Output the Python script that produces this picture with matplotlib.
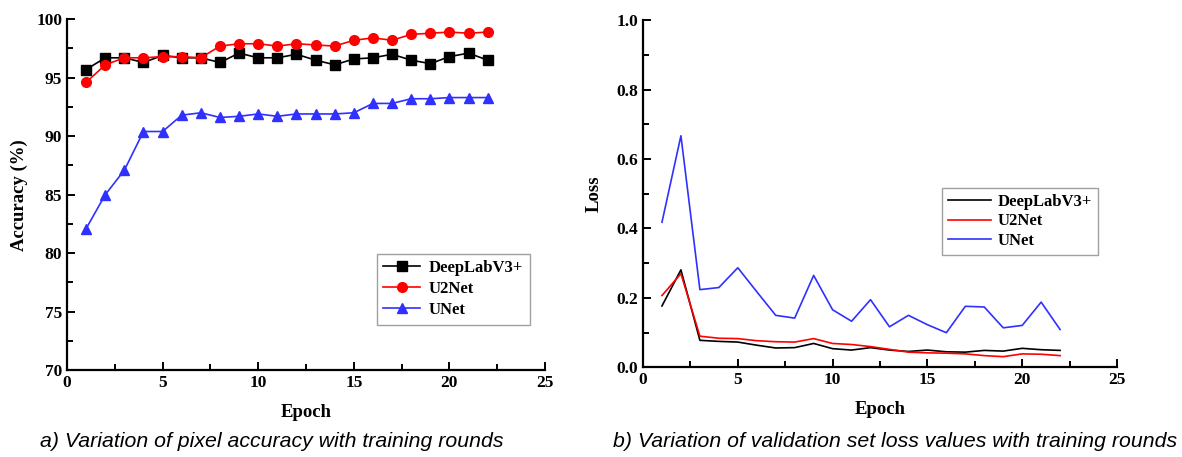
import numpy as np
import matplotlib
matplotlib.use("Agg")
import matplotlib.pyplot as plt
from matplotlib.ticker import MultipleLocator

# epochs and values
epochs = list(range(1, 23))

acc_deeplab = [95.7, 96.7, 96.7, 96.3, 96.9, 96.7, 96.7, 96.3, 97.1, 96.7, 96.7,
               97.0, 96.5, 96.1, 96.6, 96.7, 97.0, 96.5, 96.2, 96.8, 97.1, 96.5]
acc_u2net = [94.6, 96.1, 96.7, 96.7, 96.8, 96.8, 96.7, 97.7, 97.9, 97.9, 97.7,
             97.9, 97.8, 97.7, 98.2, 98.4, 98.2, 98.7, 98.8, 98.9, 98.8, 98.9]
acc_unet = [82.1, 85.0, 87.1, 90.4, 90.4, 91.8, 92.0, 91.6, 91.7, 91.9, 91.7,
            91.9, 91.9, 91.9, 92.0, 92.8, 92.8, 93.2, 93.2, 93.3, 93.3, 93.3]

loss_deeplab = [0.177, 0.281, 0.078, 0.075, 0.073, 0.064, 0.056, 0.057, 0.069, 0.054, 0.050,
                0.057, 0.050, 0.046, 0.050, 0.045, 0.044, 0.049, 0.047, 0.055, 0.051, 0.049]
loss_u2net = [0.207, 0.270, 0.090, 0.084, 0.083, 0.077, 0.074, 0.073, 0.083, 0.069, 0.066,
              0.060, 0.052, 0.044, 0.042, 0.041, 0.039, 0.034, 0.031, 0.039, 0.038, 0.034]
loss_unet = [0.418, 0.667, 0.224, 0.230, 0.287, 0.218, 0.150, 0.142, 0.265, 0.166, 0.133,
             0.195, 0.117, 0.150, 0.123, 0.100, 0.176, 0.174, 0.114, 0.121, 0.188, 0.109]

names = ["DeepLabV3+", "U2Net", "UNet"]
colors = ["black", "red", "#3030ff"]

plt.rcParams['font.family'] = ['Liberation Serif', 'DejaVu Serif']
plt.rcParams['font.weight'] = 'bold'

fig = plt.figure(figsize=(11.82, 4.57), dpi=100)
ax1 = fig.add_axes([0.0567, 0.190, 0.4044, 0.768])
ax2 = fig.add_axes([0.544, 0.196, 0.401, 0.760])


def style_axes(ax):
    for s in ['top', 'right']:
        ax.spines[s].set_visible(False)
    for s in ['left', 'bottom']:
        ax.spines[s].set_linewidth(1.6)
    ax.tick_params(which='both', direction='in', width=1.4, labelsize=12.5)
    ax.tick_params(which='major', length=6)
    ax.tick_params(which='minor', length=4)
    ax.xaxis.set_major_locator(MultipleLocator(5))
    ax.xaxis.set_minor_locator(MultipleLocator(2.5))
    ax.set_xlim(0, 25)
    for lab in ax.get_xticklabels() + ax.get_yticklabels():
        lab.set_fontweight('bold')
    ax.set_xlabel("Epoch", fontsize=13.5, fontweight='bold', labelpad=9)


# accuracy
markers = ['s', 'o', '^']
for vals, name, c, m in zip([acc_deeplab, acc_u2net, acc_unet], names, colors, markers):
    ax1.plot(epochs, vals, color=c, marker=m, markersize=7, linewidth=1.2, label=name)
ax1.set_ylim(70, 100)
ax1.yaxis.set_major_locator(MultipleLocator(5))
ax1.yaxis.set_minor_locator(MultipleLocator(2.5))
style_axes(ax1)
ax1.set_ylabel("Accuracy (%)", fontsize=13.5, fontweight='bold', labelpad=6)
leg1 = ax1.legend(loc='lower right', bbox_to_anchor=(0.985, 0.105), fontsize=12,
                  fancybox=False, edgecolor='#888888', handlelength=2.2,
                  borderpad=0.4, labelspacing=0.3, handletextpad=0.5)
leg1.get_frame().set_linewidth(1.0)

# loss
for vals, name, c in zip([loss_deeplab, loss_u2net, loss_unet], names, colors):
    ax2.plot(epochs, vals, color=c, linewidth=1.2, label=name)
ax2.set_ylim(0, 1.0)
ax2.yaxis.set_major_locator(MultipleLocator(0.2))
ax2.yaxis.set_minor_locator(MultipleLocator(0.1))
style_axes(ax2)
ax2.set_ylabel("Loss", fontsize=13.5, fontweight='bold', labelpad=10)
leg2 = ax2.legend(loc='upper right', bbox_to_anchor=(0.978, 0.54), fontsize=12,
                  fancybox=False, edgecolor='#888888', handlelength=2.6,
                  borderpad=0.35, labelspacing=0.2, handletextpad=0.4)
leg2.get_frame().set_linewidth(1.0)

cap_font = ['Liberation Sans', 'DejaVu Sans']
fig.text(0.034, 0.022, "a) Variation of pixel accuracy with training rounds",
         fontsize=15.3, style='italic', fontweight='normal', family=cap_font)
fig.text(0.519, 0.022, "b) Variation of validation set loss values with training rounds",
         fontsize=15.3, style='italic', fontweight='normal', family=cap_font)

fig.savefig("out.png", dpi=100)
